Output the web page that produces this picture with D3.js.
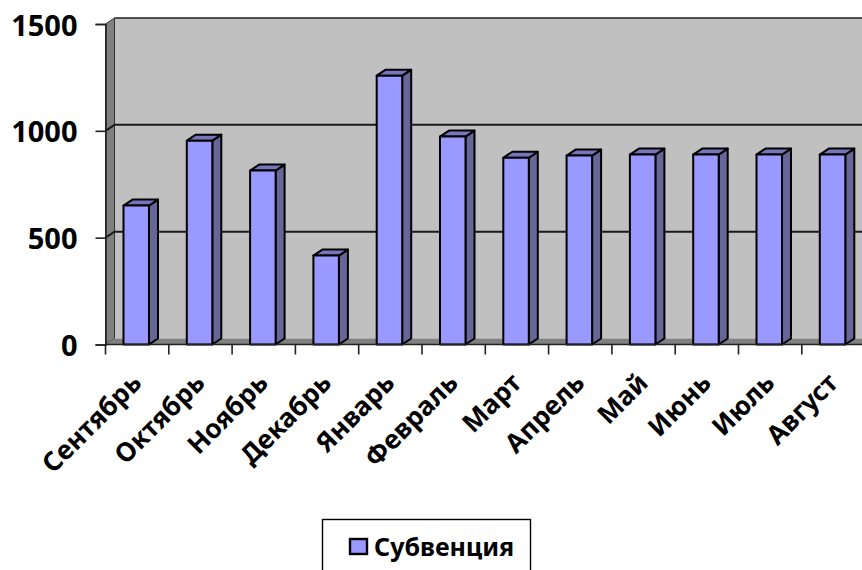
<!DOCTYPE html>
<html>
<head>
<meta charset="utf-8">
<script src="https://cdn.jsdelivr.net/npm/d3@7/dist/d3.min.js"></script>
<style>
  html, body { margin: 0; padding: 0; background: #fff; overflow: hidden; }
  text { font-family: "Noto Sans", sans-serif; font-weight: 700; fill: #000; }
</style>
</head>
<body>
<script>
var months = ['Сентябрь', 'Октябрь', 'Ноябрь', 'Декабрь', 'Январь', 'Февраль', 'Март', 'Апрель', 'Май', 'Июнь', 'Июль', 'Август'];
var subvention = [650, 954, 814, 416, 1258, 973, 874, 884, 889, 889, 889, 889];
var valueTicks = [0, 500, 1000, 1500];
var seriesName = 'Субвенция';

var svgWidth = 862, svgHeight = 570;
var depthX = 9, wallDepthY = 6, barDepthY = 6;

var svg = d3.select('body').append('svg')
  .attr('width', svgWidth)
  .attr('height', svgHeight)
  .style('display', 'block');

var x = d3.scaleBand().domain(months).range([105.5, 865.1]);
var y = d3.scaleLinear().domain([0, 1500]).range([344.5, 24]);

var barWidth = 25.5;
var barOffset = 18;
var right = 880;

// back wall, side wall, floor
svg.append('rect')
  .attr('x', x.range()[0] + depthX).attr('y', y(1500) - wallDepthY)
  .attr('width', right).attr('height', y(0) - y(1500))
  .attr('fill', '#c0c0c0');
svg.append('path')
  .attr('d', d3.line()([[114.5, y(1500) - wallDepthY], [right, y(1500) - wallDepthY]]))
  .attr('stroke', '#222').attr('stroke-width', 1.6);
svg.append('path')
  .attr('d', d3.line()([[105.5, y(0)], [105.5, y(1500)], [105.5 + depthX, y(1500) - wallDepthY], [105.5 + depthX, y(0) - wallDepthY]]) + 'Z')
  .attr('fill', '#808080').attr('stroke', '#333').attr('stroke-width', 1);
svg.append('path')
  .attr('d', d3.line()([[105.5, y(0)], [105.5 + depthX, y(0) - wallDepthY], [right, y(0) - wallDepthY], [right, y(0)]]) + 'Z')
  .attr('fill', '#808080');

// grid lines on the wall
var grid = svg.append('g').attr('fill', 'none').attr('stroke', '#1a1a1a').attr('stroke-width', 2);
valueTicks.filter(function(d) { return d > 0 && d < 1500; }).forEach(function(d) {
  grid.append('path')
    .attr('d', d3.line()([[105.5, y(d)], [105.5 + depthX, y(d) - wallDepthY], [right, y(d) - wallDepthY]]));
});

// bars
var bars = svg.append('g').attr('stroke', '#000').attr('stroke-width', 2).attr('stroke-linejoin', 'round');
months.forEach(function(m, i) {
  var x0 = x(m) + barOffset, x1 = x0 + barWidth;
  var top = y(subvention[i]), base = y(0);
  bars.append('path')
    .attr('fill', '#666699')
    .attr('d', d3.line()([[x1, top], [x1 + depthX, top - barDepthY], [x1 + depthX, base - barDepthY], [x1, base]]) + 'Z');
  bars.append('path')
    .attr('fill', '#7676bc')
    .attr('d', d3.line()([[x0, top], [x0 + depthX, top - barDepthY], [x1 + depthX, top - barDepthY], [x1, top]]) + 'Z');
  bars.append('rect')
    .attr('x', x0).attr('y', top)
    .attr('width', barWidth).attr('height', base - top)
    .attr('fill', '#9999ff');
});

// axes
var yAxis = svg.append('g')
  .attr('transform', 'translate(105.5,0)')
  .call(d3.axisLeft(y).tickValues(valueTicks).tickSize(10).tickPadding(18).tickFormat(d3.format('d')));
yAxis.select('.domain').attr('stroke', '#222').attr('stroke-width', 1.6);
yAxis.selectAll('.tick line').attr('stroke', '#222').attr('stroke-width', 1.6);
yAxis.selectAll('text').style('font-size', '29px').attr('dy', '0.38em');

var xAxis = svg.append('g').attr('transform', 'translate(0,' + y(0) + ')');
xAxis.append('path')
  .attr('d', d3.line()([[105.5, 0], [right, 0]]))
  .attr('stroke', '#222').attr('stroke-width', 1.6);
xAxis.selectAll('line').data(d3.range(months.length + 1)).enter().append('line')
  .attr('x1', function(i) { return 105.5 + i * x.step(); })
  .attr('x2', function(i) { return 105.5 + i * x.step(); })
  .attr('y1', 0).attr('y2', 10)
  .attr('stroke', '#222').attr('stroke-width', 1.6);
xAxis.selectAll('text').data(months).enter().append('text')
  .attr('transform', function(m) { return 'translate(' + (x(m) + x.bandwidth() / 2 + 6) + ',40) rotate(-45)'; })
  .attr('text-anchor', 'end')
  .style('font-size', '26.3px')
  .text(function(m) { return m; });

// legend
var legend = svg.append('g');
legend.append('rect')
  .attr('x', 322.5).attr('y', 519.5).attr('width', 208).attr('height', 70)
  .attr('fill', '#fff').attr('stroke', '#000').attr('stroke-width', 1.4);
legend.append('rect')
  .attr('x', 350).attr('y', 539).attr('width', 17).attr('height', 15)
  .attr('fill', '#9999ff').attr('stroke', '#000').attr('stroke-width', 2.4);
legend.append('text')
  .attr('x', 374).attr('y', 556)
  .style('font-size', '25px')
  .text(seriesName);
</script>
</body>
</html>
